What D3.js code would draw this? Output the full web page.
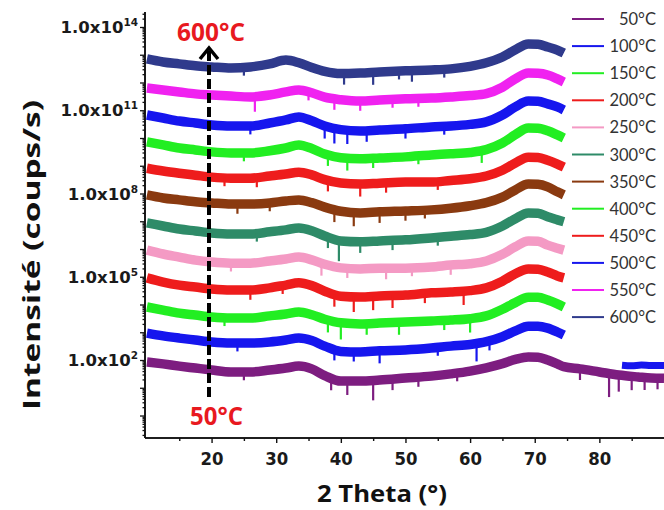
<!DOCTYPE html>
<html><head><meta charset="utf-8">
<script src="https://cdn.jsdelivr.net/npm/d3@7"></script>
<style>body{margin:0;background:#fff;} svg{display:block;}</style>
</head><body><svg id="c" width="664" height="510"></svg>
<script>
// ---- data (2θ in degrees, intensity as log10 of counts/s) ----
const theta = [10, 12.5, 15, 17.5, 20, 23, 26, 29, 31.5, 33.5, 35.5, 37.5, 40, 43, 46, 50, 54, 57, 60, 62.5, 65, 67, 69, 70.5, 72, 73.5, 74.5];
const theta50 = [10, 12.5, 15, 17.5, 20, 23, 26, 29, 31.5, 33.5, 35.5, 37.5, 40, 43, 46, 50, 54, 57, 60, 62.5, 65, 67, 69, 70.5, 72, 73.5, 74.5, 77, 80, 83, 86, 88, 90];

const log50  = [1.93,1.86,1.78,1.71,1.64,1.57,1.57,1.64,1.71,1.78,1.68,1.44,1.24,1.24,1.28,1.35,1.42,1.50,1.60,1.72,1.87,2.02,2.11,2.10,2.00,1.86,1.76,1.68,1.57,1.46,1.39,1.35,1.34];
const log100 = [2.97,2.87,2.79,2.72,2.65,2.61,2.61,2.65,2.72,2.79,2.70,2.50,2.31,2.29,2.33,2.36,2.43,2.50,2.56,2.66,2.84,3.05,3.22,3.22,3.15,3.01,2.90];
const log150 = [3.91,3.80,3.69,3.62,3.55,3.51,3.51,3.59,3.66,3.73,3.63,3.47,3.34,3.30,3.33,3.37,3.41,3.44,3.49,3.59,3.83,4.07,4.26,4.26,4.16,4.02,3.91];
const log200 = [4.96,4.81,4.70,4.63,4.56,4.52,4.52,4.60,4.70,4.78,4.68,4.48,4.30,4.27,4.31,4.34,4.42,4.45,4.50,4.60,4.84,5.11,5.28,5.27,5.17,5.03,4.96];
const log250 = [5.96,5.82,5.71,5.60,5.53,5.49,5.49,5.57,5.64,5.71,5.61,5.45,5.32,5.28,5.31,5.31,5.35,5.42,5.47,5.57,5.81,6.08,6.29,6.28,6.14,6.03,5.96];
const log300 = [6.94,6.83,6.72,6.65,6.58,6.54,6.54,6.62,6.69,6.76,6.66,6.47,6.29,6.26,6.29,6.33,6.40,6.46,6.52,6.60,6.83,7.09,7.30,7.29,7.16,7.05,6.98];
const log350 = [7.95,7.84,7.77,7.70,7.66,7.62,7.62,7.66,7.73,7.77,7.67,7.51,7.36,7.30,7.34,7.37,7.41,7.47,7.56,7.67,7.87,8.13,8.34,8.33,8.24,8.06,7.95];
const log400 = [9.86,9.75,9.64,9.57,9.50,9.46,9.46,9.54,9.64,9.75,9.62,9.42,9.29,9.25,9.28,9.32,9.39,9.43,9.48,9.58,9.82,10.12,10.36,10.35,10.26,10.11,10.00];
const log450 = [8.91,8.81,8.73,8.66,8.59,8.55,8.55,8.63,8.70,8.77,8.67,8.50,8.38,8.34,8.37,8.41,8.41,8.47,8.53,8.63,8.84,9.10,9.31,9.30,9.20,9.06,8.95];
const log500 = [10.83,10.72,10.61,10.54,10.47,10.43,10.43,10.54,10.65,10.76,10.62,10.43,10.30,10.25,10.29,10.33,10.40,10.43,10.49,10.58,10.83,11.12,11.33,11.32,11.23,11.12,11.01];
const log550 = [11.80,11.73,11.66,11.59,11.55,11.51,11.48,11.55,11.66,11.73,11.63,11.47,11.38,11.33,11.37,11.41,11.44,11.48,11.53,11.60,11.83,12.13,12.34,12.33,12.27,12.13,12.02];
const log600 = [12.85,12.74,12.67,12.60,12.56,12.52,12.56,12.67,12.81,12.71,12.54,12.40,12.32,12.34,12.38,12.42,12.45,12.49,12.58,12.71,12.92,13.18,13.39,13.38,13.28,13.17,13.06];

// extra fragment of the 100°C scan seen behind the 50°C trace
const tail100Theta = [83.5, 85, 86.5, 88, 90];
const tail100Log = [1.81, 1.79, 1.82, 1.80, 1.80];

// downward noise spikes: [2θ, depth in decades]
const spikes50  = [[25,0.3],[38.5,0.45],[41,0.5],[45,0.72],[48,0.4],[52,0.35],[58,0.3],[77,0.4],[81.5,0.85],[83,0.6],[85,0.5],[87,0.45],[89,0.4]];
const spikes100 = [[24,0.3],[39,0.4],[42,0.35],[46,0.45],[55,0.3],[61,0.65],[63,0.35]];
const spikes150 = [[22,0.3],[38,0.45],[40,0.6],[44,0.4],[49,0.45],[56,0.35],[60,0.5]];
const spikes200 = [[26,0.35],[31,0.3],[39,0.45],[42,0.55],[45,0.5],[48,0.45],[53,0.35],[59,0.5]];
const spikes250 = [[23,0.3],[37,0.45],[41,0.35],[47,0.4],[51,0.3],[57,0.35]];
const spikes300 = [[27,0.3],[38,0.4],[39.7,0.75],[43,0.4],[48,0.35],[55,0.3]];
const spikes350 = [[24,0.35],[29,0.3],[39,0.45],[42,0.5],[46,0.4],[50,0.35],[53,0.3]];
const spikes400 = [[25,0.3],[38,0.4],[41,0.45],[45,0.35],[52,0.3],[61.8,0.45]];
const spikes450 = [[22,0.3],[27,0.35],[38,0.4],[43,0.45],[47,0.35],[55,0.3]];
const spikes500 = [[26,0.3],[37.5,0.45],[39,0.55],[41,0.5],[44,0.4],[50,0.35],[56,0.3]];
const spikes550 = [[26.7,0.55],[35,0.3],[39,0.4],[43,0.35],[48,0.3],[52,0.3]];
const spikes600 = [[25,0.3],[40.5,0.4],[45,0.45],[49,0.3],[51,0.4],[56,0.3]];

const seriesNames  = ["50°C","100°C","150°C","200°C","250°C","300°C","350°C","400°C","450°C","500°C","550°C","600°C"];
const seriesColors = ["#7d1d80","#1616ee","#22ee22","#ee1c1c","#f49ac4","#2e8b68","#8a3a10","#22ee22","#ee1c1c","#1616ee","#f022f0","#2f3a8c"];
const xTickValues = [20,30,40,50,60,70,80];
const xMinorValues = [15,25,35,45,55,65,75,85];
const yLabelExponents = [2,5,8,11,14];

// ---- build ----
const thetaSets = [theta50,theta,theta,theta,theta,theta,theta,theta,theta,theta,theta,theta];
const logSets = [log50,log100,log150,log200,log250,log300,log350,log400,log450,log500,log550,log600];
const spikeSets = [spikes50,spikes100,spikes150,spikes200,spikes250,spikes300,spikes350,spikes400,spikes450,spikes500,spikes550,spikes600];
const series = seriesNames.map((n,i)=>({name:n,color:seriesColors[i],
  pts: thetaSets[i].map((t,j)=>({t, v: Math.pow(10, logSets[i][j])})),
  theta: thetaSets[i], log: logSets[i], spikes: spikeSets[i]}));

const svg = d3.select("#c");
const x = d3.scaleLinear().domain([9.7, 90]).range([145, 664]);
const y = d3.scaleLog().domain([Math.pow(10,-0.81), Math.pow(10,14.54)]).range([438, 12]);

const line = d3.line().x(d=>x(d.t)).y(d=>y(d.v)).curve(d3.curveMonotoneX);
const gCurves = svg.append("g");

function logAt(s, t){
  const th = s.theta, lg = s.log;
  let k = d3.bisectRight(th, t);
  if (k <= 0) return lg[0];
  if (k >= th.length) return lg[lg.length-1];
  const f = (t - th[k-1])/(th[k]-th[k-1]);
  return lg[k-1] + f*(lg[k]-lg[k-1]);
}

// tail of 100°C behind 50°C
gCurves.append("path")
  .datum(tail100Theta.map((t,j)=>({t, v: Math.pow(10, tail100Log[j])})))
  .attr("d", line).attr("fill","none").attr("stroke", seriesColors[1]).attr("stroke-width", 7);

series.forEach(s=>{
  const g = gCurves.append("g");
  g.append("path").datum(s.pts).attr("d", line)
    .attr("fill","none").attr("stroke", s.color).attr("stroke-width", 9.5)
    .attr("stroke-linejoin","round");
  g.selectAll("line.sp").data(s.spikes).enter().append("line")
    .attr("x1", d=>x(d[0])).attr("x2", d=>x(d[0]))
    .attr("y1", d=>y(Math.pow(10, logAt(s,d[0]))))
    .attr("y2", d=>y(Math.pow(10, logAt(s,d[0]) - d[1])))
    .attr("stroke", s.color).attr("stroke-width", 2.2);
});

// ---- axes ----
const axG = svg.append("g").attr("transform","translate(0,438)");
axG.call(d3.axisBottom(x).tickValues(xTickValues).tickSize(5).tickFormat(d3.format("d")));
const axG2 = svg.append("g").attr("transform","translate(0,438)");
axG2.call(d3.axisBottom(x).tickValues(xMinorValues).tickSize(3).tickFormat(""));
[axG, axG2].forEach(g=>{
  g.select(".domain").attr("stroke","#111").attr("stroke-width",1.6).attr("d","M145,0H664");
  g.selectAll(".tick line").attr("stroke","#111").attr("stroke-width",1.4);
});
axG.selectAll(".tick text").attr("y", 27).attr("dy", null)
  .attr("font-family","DejaVu Sans").attr("font-weight","bold").attr("font-size",17)
  .attr("fill","#1a1a1a").attr("textLength",23).attr("lengthAdjust","spacingAndGlyphs");

const decades = d3.range(0, 15).map(e=>Math.pow(10,e));
const minors = [];
d3.range(-1, 15).forEach(e=>{ for(let m=2;m<=9;m++){ const v=m*Math.pow(10,e); if(v>y.domain()[0] && v<y.domain()[1]) minors.push(v);} });
const ayG = svg.append("g").attr("transform","translate(145,0)");
ayG.call(d3.axisLeft(y).tickValues(decades).tickSize(5).tickFormat(""));
const ayG2 = svg.append("g").attr("transform","translate(145,0)");
ayG2.call(d3.axisLeft(y).tickValues(minors).tickSize(2.5).tickFormat(""));
[ayG, ayG2].forEach(g=>{
  g.select(".domain").attr("stroke","#111").attr("stroke-width",1.6).attr("d","M0,12V438");
  g.selectAll(".tick line").attr("stroke","#111").attr("stroke-width",1.3);
});

const yl = svg.append("g").selectAll("text").data(yLabelExponents).enter().append("text")
  .attr("x", 138).attr("y", e=>y(Math.pow(10,e))+6)
  .attr("text-anchor","end").attr("font-family","DejaVu Sans").attr("font-weight","bold")
  .attr("fill","#1a1a1a");
yl.append("tspan").attr("font-size",16.5).text("1.0x10");
yl.append("tspan").attr("font-size",10.5).attr("dy",-7).text(e=>String(e));

// ---- titles ----
svg.append("text").attr("transform","translate(30,255) rotate(-90)")
  .attr("text-anchor","middle").attr("dominant-baseline","central")
  .attr("font-family","Open Sans").attr("font-weight","bold").attr("font-size",24)
  .attr("fill","#111").attr("textLength",310).attr("lengthAdjust","spacingAndGlyphs")
  .text("Intensité (coups/s)");
svg.append("text").attr("x",382).attr("y",502).attr("text-anchor","middle")
  .attr("font-family","Open Sans").attr("font-weight","bold").attr("font-size",23)
  .attr("fill","#111").attr("textLength",130).attr("lengthAdjust","spacingAndGlyphs")
  .text("2 Theta (°)");

// ---- annotation arrow ----
svg.append("line").attr("x1",209).attr("x2",209).attr("y1",397).attr("y2",50)
  .attr("stroke","#000").attr("stroke-width",4).attr("stroke-dasharray","10,4");
svg.append("path").attr("d","M200,59L209,48L218,59").attr("fill","none")
  .attr("stroke","#000").attr("stroke-width",3.5);
svg.append("text").attr("x",177).attr("y",41).attr("font-family","Open Sans").attr("font-weight","bold")
  .attr("font-size",25).attr("fill","#e8191f").attr("textLength",68).attr("lengthAdjust","spacingAndGlyphs").text("600°C");
svg.append("text").attr("x",190).attr("y",425).attr("font-family","Open Sans").attr("font-weight","bold")
  .attr("font-size",25).attr("fill","#e8191f").attr("textLength",53).attr("lengthAdjust","spacingAndGlyphs").text("50°C");

// ---- legend ----
const lg = svg.append("g").selectAll("g").data(series).enter().append("g")
  .attr("transform",(d,i)=>`translate(0,${19 + i*27.1})`);
lg.append("line").attr("x1",572).attr("x2",604).attr("y1",0).attr("y2",0)
  .attr("stroke",d=>d.color).attr("stroke-width",2);
lg.append("text").attr("x",656).attr("y",6).attr("text-anchor","end")
  .attr("font-family","Lato").attr("font-size",16.5).attr("fill","#333").text(d=>d.name);
</script></body></html>
